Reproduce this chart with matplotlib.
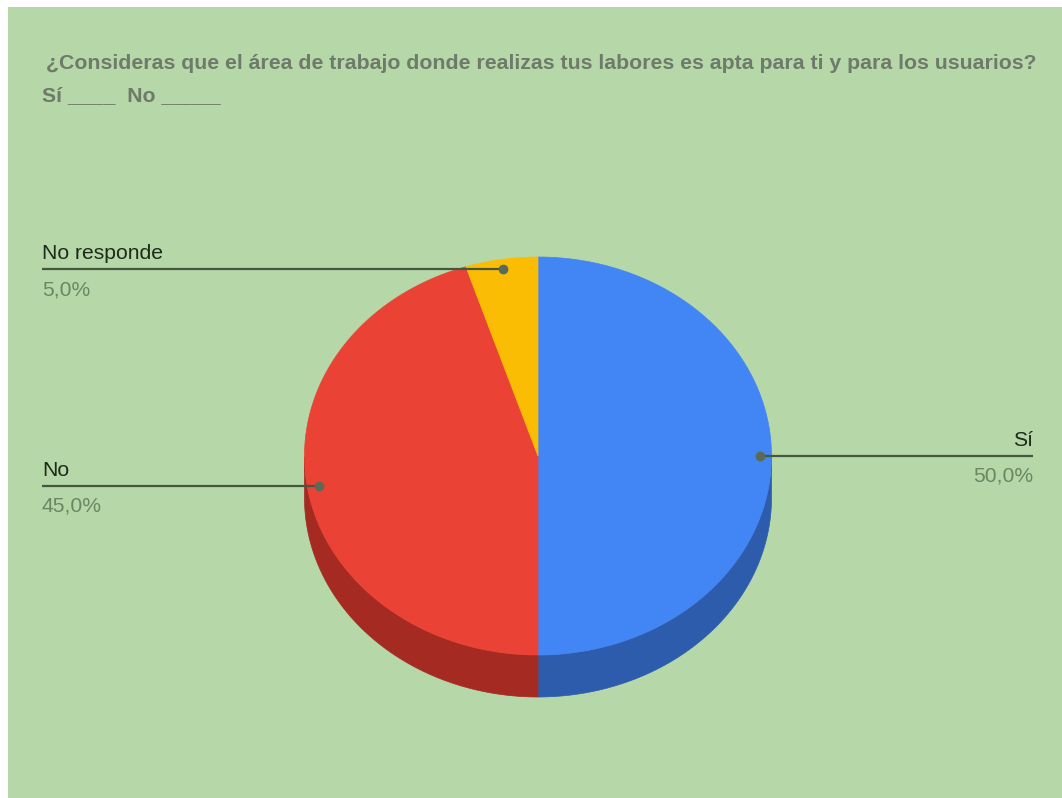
import numpy as np
import matplotlib
matplotlib.use("Agg")
import matplotlib.pyplot as plt
from matplotlib.patches import Polygon, Rectangle

# Survey answers
categories = ["Sí", "No", "No responde"]
values = [50.0, 45.0, 5.0]
pct_labels = ["50,0%", "45,0%", "5,0%"]
top_colors = ["#4285F4", "#EA4335", "#FBBC04"]
side_colors = ["#2E5CAD", "#A52A22", "#B08303"]

title_line1 = "¿Consideras que el área de trabajo donde realizas tus labores es apta para ti y para los usuarios?"
title_line2 = "Sí ____  No _____"

W, H = 1062, 798
BG = "#B6D7A8"
FONT = "Liberation Sans"

fig = plt.figure(figsize=(W / 100, H / 100), dpi=100, facecolor="white")
ax = fig.add_axes([0, 0, 1, 1])
ax.set_xlim(0, W)
ax.set_ylim(H, 0)
ax.axis("off")

# chart area background
ax.add_patch(Rectangle((8, 7), W - 8, H - 7, facecolor=BG, edgecolor="none", zorder=0))

# 3D pie geometry (pixel space, y down)
cx, cy, rx, ry, depth = 538.0, 456.0, 233.5, 199.0, 42.0


def ellipse_pts(t_deg, dy=0.0):
    t = np.radians(t_deg)
    return np.column_stack([cx + rx * np.cos(t), cy - ry * np.sin(t) + dy])


total = sum(values)
start = 90.0
slices = []
for v in values:
    sweep = 360.0 * v / total
    slices.append((start, start - sweep))
    start -= sweep

# side walls (only the front half is visible)
for (a0, a1), col in zip(slices, side_colors):
    t = np.linspace(a1, a0, 400)
    s = np.sin(np.radians(t))
    vis = t[s <= 1e-9]
    if len(vis) < 2:
        continue
    upper = ellipse_pts(vis)
    lower = ellipse_pts(vis[::-1], dy=depth)
    ax.add_patch(Polygon(np.vstack([upper, lower]), closed=True,
                         facecolor=col, edgecolor=col, linewidth=0.5, zorder=2))

# top face
for (a0, a1), col in zip(slices, top_colors):
    t = np.linspace(a0, a1, 300)
    pts = np.vstack([[cx, cy], ellipse_pts(t)])
    ax.add_patch(Polygon(pts, closed=True, facecolor=col, edgecolor=col,
                         linewidth=0.5, zorder=3))

# leader lines and labels
line_col = "#44583F"
dot_col = "#5B6A57"
label_col = "#1E2A1B"
pct_col = "#6A8763"
for (a0, a1), cat, pl in zip(slices, categories, pct_labels):
    mid = np.radians((a0 + a1) / 2.0)
    px = cx + 0.95 * rx * np.cos(mid)
    py = cy - 0.95 * ry * np.sin(mid)
    if np.cos(mid) >= 0:
        xe, ha = 1033, "right"
    else:
        xe, ha = 42, "left"
    ax.plot([px, xe], [py, py], color=line_col, lw=1.6, zorder=4,
            solid_capstyle="butt")
    ax.plot([px], [py], "o", color=dot_col, ms=6, zorder=5)
    ax.text(xe, py - 10, cat, ha=ha, va="baseline", fontsize=15.2,
            family=FONT, color=label_col, zorder=5)
    ax.text(xe, py + 26, pl, ha=ha, va="baseline", fontsize=15.2,
            family=FONT, color=pct_col, zorder=5)

# title
title_col = "#6E7A6A"
ax.text(46, 69, title_line1, ha="left", va="baseline", fontsize=15.3,
        family=FONT, fontweight="bold", color=title_col)
ax.text(42, 101, title_line2, ha="left", va="baseline", fontsize=15.3,
        family=FONT, fontweight="bold", color=title_col)

fig.savefig("out.png", dpi=100, facecolor="white")
